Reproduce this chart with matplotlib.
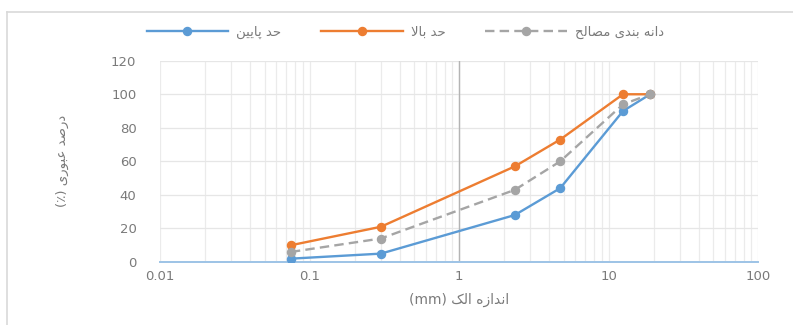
import matplotlib
matplotlib.use("Agg")
import matplotlib.pyplot as plt
from matplotlib.lines import Line2D
from matplotlib.ticker import FixedLocator, NullFormatter

# sieve sizes (mm) and passing percentages
sieve_mm = [0.075, 0.3, 2.36, 4.75, 12.5, 19]
lower_limit = [2, 5, 28, 44, 90, 100]
upper_limit = [10, 21, 57, 73, 100, 100]
grading = [6, 14, 43, 60, 94, 100]

x_ticks = [0.01, 0.1, 1, 10, 100]
x_tick_labels = ["0.01", "0.1", "1", "10", "100"]
y_ticks = [0, 20, 40, 60, 80, 100, 120]

# contextual forms: isolated, final, initial, medial (None = right-joining only)
FORMS = {
    "ا": ("\uFE8D", "\uFE8E", None, None),
    "ب": ("\uFE8F", "\uFE90", "\uFE91", "\uFE92"),
    "پ": ("\uFB56", "\uFB57", "\uFB58", "\uFB59"),
    "ح": ("\uFEA1", "\uFEA2", "\uFEA3", "\uFEA4"),
    "د": ("\uFEA9", "\uFEAA", None, None),
    "ر": ("\uFEAD", "\uFEAE", None, None),
    "ز": ("\uFEAF", "\uFEB0", None, None),
    "ص": ("\uFEB9", "\uFEBA", "\uFEBB", "\uFEBC"),
    "ع": ("\uFEC9", "\uFECA", "\uFECB", "\uFECC"),
    "ک": ("\uFB8E", "\uFB8F", "\uFB90", "\uFB91"),
    "ل": ("\uFEDD", "\uFEDE", "\uFEDF", "\uFEE0"),
    "م": ("\uFEE1", "\uFEE2", "\uFEE3", "\uFEE4"),
    "ن": ("\uFEE5", "\uFEE6", "\uFEE7", "\uFEE8"),
    "ه": ("\uFEE9", "\uFEEA", "\uFEEB", "\uFEEC"),
    "و": ("\uFEED", "\uFEEE", None, None),
    "ی": ("\uFBFC", "\uFBFD", "\uFBFE", "\uFBFF"),
}


def joins_forward(ch):
    return ch in FORMS and FORMS[ch][2] is not None


def persian(text):
    """Shape Persian letters and return them in left-to-right display order."""
    out = []
    i = 0
    n = len(text)
    while i < n:
        c = text[i]
        if c not in FORMS:
            out.append(c)
            i += 1
            continue
        prev_joins = i > 0 and joins_forward(text[i - 1])
        # lam + alef ligature
        if c == "ل" and i + 1 < n and text[i + 1] == "ا":
            out.append("\uFEFC" if prev_joins else "\uFEFB")
            i += 2
            continue
        next_joins = joins_forward(c) and i + 1 < n and text[i + 1] in FORMS
        iso, fin, ini, med = FORMS[c]
        if prev_joins and next_joins:
            out.append(med)
        elif prev_joins:
            out.append(fin)
        elif next_joins:
            out.append(ini)
        else:
            out.append(iso)
        i += 1
    return "".join(out)[::-1]


plt.rcParams["font.family"] = ["DejaVu Sans"]

fig = plt.figure(figsize=(7.93, 3.25), dpi=100)
ax = fig.add_axes([0.2018, 0.1938, 0.7541, 0.6194])

blue = "#5b9bd5"
orange = "#ed7d31"
gray = "#a5a5a5"

ax.plot(sieve_mm, lower_limit, color=blue, lw=1.7, marker="o", ms=5.8,
        label=persian("حد پایین"), zorder=3)
ax.plot(sieve_mm, upper_limit, color=orange, lw=1.7, marker="o", ms=5.8,
        label=persian("حد بالا"), zorder=3)
ax.plot(sieve_mm, grading, color=gray, lw=1.7, ls=(0, (4, 2.2)), marker="o",
        ms=5.8, label=persian("دانه بندی مصالح"), zorder=4)

ax.set_xscale("log")
ax.set_xlim(0.01, 100)
ax.set_ylim(0, 120)
ax.xaxis.set_major_locator(FixedLocator(x_ticks))
ax.set_xticklabels(x_tick_labels)
minor = [m * 10.0 ** e for e in range(-2, 2) for m in range(2, 10)]
ax.xaxis.set_minor_locator(FixedLocator(minor))
ax.xaxis.set_minor_formatter(NullFormatter())
ax.set_yticks(y_ticks)

ax.grid(True, which="both", axis="x", color="#ebebeb", lw=0.9)
ax.grid(True, which="major", axis="y", color="#e6e6e6", lw=0.9)
ax.set_axisbelow(True)

# vertical axis crosses at 1 mm
ax.axvline(1, color="#b4b4b4", lw=1.0, zorder=2)

for side in ("top", "right", "left"):
    ax.spines[side].set_visible(False)
ax.spines["bottom"].set_color("#9dc3e6")
ax.spines["bottom"].set_linewidth(1.4)

ax.tick_params(axis="both", which="both", length=0, labelsize=9.5,
               labelcolor="#7a7a7a")
ax.tick_params(axis="y", pad=17)
ax.tick_params(axis="x", pad=6)

ax.set_xlabel("(mm) " + persian("اندازه الک"), fontsize=10, color="#7a7a7a",
              labelpad=7)
ax.set_ylabel("(٪) " + persian("درصد عبوری"), fontsize=9.5, color="#7a7a7a",
              labelpad=30)

ax.legend(loc="center", bbox_to_anchor=(0.41, 1.14), ncol=3, frameon=False,
          fontsize=9.5, labelcolor="#7a7a7a", handlelength=6.2,
          columnspacing=3.0, handletextpad=0.6)

# light frame around the chart
fig.add_artist(Line2D([0.009, 0.009], [0, 0.963], color="#d9d9d9", lw=1.2,
                      transform=fig.transFigure))
fig.add_artist(Line2D([0.009, 1.0], [0.963, 0.963], color="#d9d9d9", lw=1.2,
                      transform=fig.transFigure))

fig.savefig("out.png", dpi=100, facecolor="white")
